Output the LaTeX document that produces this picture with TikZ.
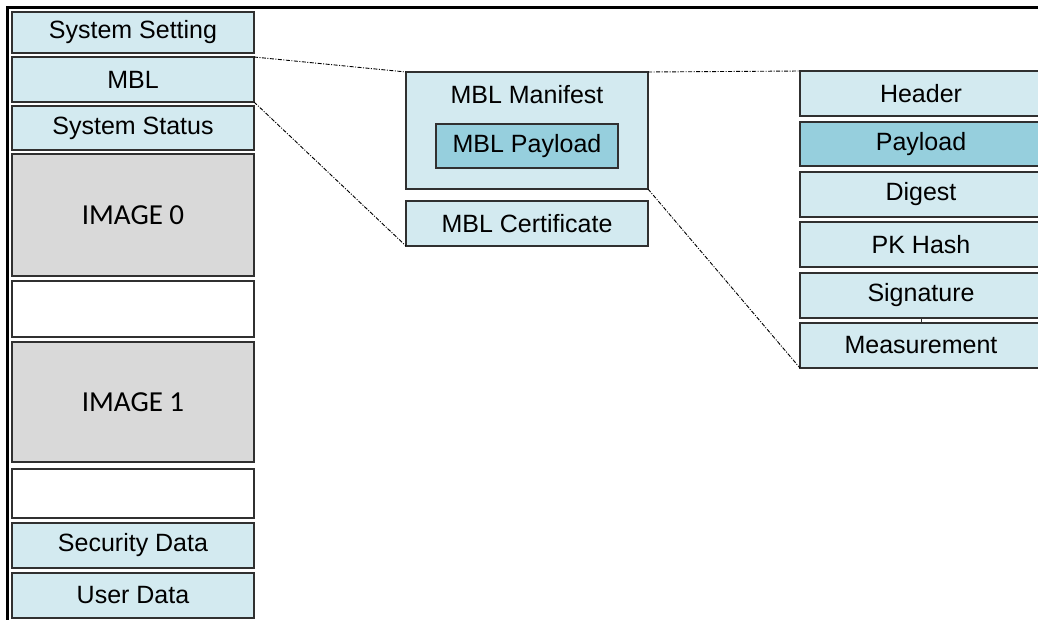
\documentclass[tikz,border=0pt]{standalone}
\usepackage{fontspec}
\setmainfont{Liberation Sans}
\newfontfamily\calibrifont{Carlito}
\definecolor{lblue}{HTML}{D3EAF0}
\definecolor{dblue}{HTML}{96CFDD}
\definecolor{lgray}{HTML}{D9D9D9}
\definecolor{edge}{HTML}{303030}
\begin{document}
\begin{tikzpicture}[x=1pt,y=-1pt,
  box/.style={draw=edge, line width=1.2pt, fill=lblue, inner sep=0pt, outer sep=0pt,
    font=\fontsize{25}{29}\selectfont, text=black},
  darkbox/.style={box, fill=dblue},
  imgbox/.style={box, fill=lgray, font=\calibrifont\fontsize{29}{33}\selectfont},
  emptybox/.style={box, fill=white},
  lbl/.style={inner sep=0pt, font=\fontsize{25}{29}\selectfont},
  zoomline/.style={draw=black, line width=0.9pt, dash pattern=on 4pt off 1.5pt on 1pt off 1.5pt},
  frameline/.style={draw=black, line width=3pt}]
\useasboundingbox (0,0) rectangle (1038,619);
\clip (0,0) rectangle (1038,619);
% frame
\coordinate (ftl) at (7.5,7.5);
\coordinate (ftr) at (1040,7.5);
\coordinate (fbl) at (7.5,622);
\draw[frameline] (fbl) -- (ftl) -- (ftr);
% left column
\node[box, minimum width=242pt, minimum height=41pt] (sset) at (133,32.5) {System Setting};
\node[box, minimum width=242pt, minimum height=45pt] (mbl) at (133,79.5) {MBL};
\node[box, minimum width=242pt, minimum height=44pt] (sstat) at (133,128) {System Status};
\node[imgbox, minimum width=242pt, minimum height=122pt] (img0) at (133,215) {IMAGE 0};
\node[emptybox, minimum width=242pt, minimum height=56pt] (blank0) at (133,309) {};
\node[imgbox, minimum width=242pt, minimum height=120pt] (img1) at (133,402) {IMAGE 1};
\node[emptybox, minimum width=242pt, minimum height=49pt] (blank1) at (133,493.5) {};
\node[box, minimum width=242pt, minimum height=45pt] (secd) at (133,545.5) {Security Data};
\node[box, minimum width=242pt, minimum height=45pt] (userd) at (133,595.5) {User Data};
% middle
\node[box, minimum width=242pt, minimum height=117pt] (manifest) at (527,130.5) {};
\node[lbl] (maniflbl) at (527,95) {MBL Manifest};
\node[darkbox, minimum width=182pt, minimum height=44pt] (mpay) at (527,146) {MBL Payload};
\node[box, minimum width=242pt, minimum height=45pt] (cert) at (527,223.5) {MBL Certificate};
% right column
\node[box, minimum width=242pt, minimum height=45pt] (header) at (921,93.5) {Header};
\node[darkbox, minimum width=242pt, minimum height=44pt] (payload) at (921,144) {Payload};
\node[box, minimum width=242pt, minimum height=45pt] (digest) at (921,194.5) {Digest};
\node[box, minimum width=242pt, minimum height=45pt] (pkhash) at (921,244.5) {PK Hash};
\node[box, minimum width=242pt, minimum height=45pt] (sig) at (921,295.5) {Signature};
\node[box, minimum width=242pt, minimum height=45pt] (meas) at (921,345.5) {Measurement};
\draw[edge, line width=0.8pt] (sig.south) -- (meas.north);
% zoom lines
\draw[zoomline] (mbl.north east) -- (manifest.north west);
\draw[zoomline] (mbl.south east) -- (cert.south west);
\draw[zoomline] (manifest.north east) -- (header.north west);
\draw[zoomline] (manifest.south east) -- (meas.south west);
\end{tikzpicture}
\end{document}
